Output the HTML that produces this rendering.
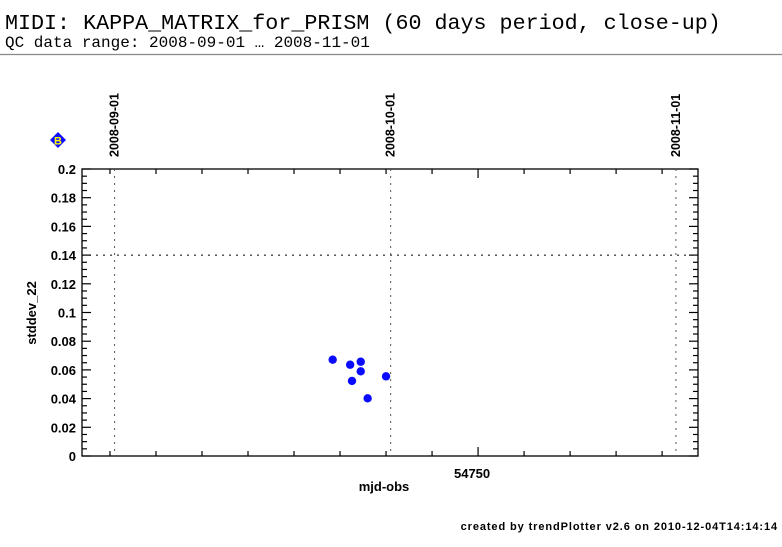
<!DOCTYPE html>
<html><head><meta charset="utf-8"><style>
body{margin:0;background:#fff;width:782px;height:542px;overflow:hidden}
svg text{font-family:"Liberation Sans",sans-serif}
</style></head><body>
<svg id="chart" width="782" height="542" xmlns="http://www.w3.org/2000/svg">
<text x="5" y="29" font-size="21.7" style="font-family:'Liberation Mono',monospace">MIDI: KAPPA_MATRIX_for_PRISM (60 days period, close-up)</text>
<text x="5" y="47" font-size="16" style="font-family:'Liberation Mono',monospace">QC data range: 2008-09-01 … 2008-11-01</text>
<line x1="0" y1="54.5" x2="782" y2="54.5" stroke="#888" stroke-width="1.2"/>
<g id="plot"></g>
<text x="384" y="491" font-size="13" font-weight="bold" text-anchor="middle">mjd-obs</text>
<text transform="translate(36,313) rotate(-90)" font-size="13" font-weight="bold" text-anchor="middle">stddev_22</text>
<text x="778" y="530" font-size="11" font-weight="bold" text-anchor="end" letter-spacing="0.9">created by trendPlotter v2.6 on 2010-12-04T14:14:14</text>
<g>
<polygon points="58,132 66,140 58,148 50,140" fill="#1010ff"/>
<text x="58" y="144.5" font-size="11" font-weight="bold" fill="#ffff00" text-anchor="middle">B</text>
</g>
</svg>
<script>
const mjdValues=[54734.2,54736.1,54736.3,54737.25,54737.25,54738.0,54740.0];
const stddevValues=[0.0671,0.0636,0.0523,0.0657,0.0590,0.0402,0.0555];
const yTicks=[0,0.02,0.04,0.06,0.08,0.1,0.12,0.14,0.16,0.18,0.2];
const yTickLabels=["0","0.02","0.04","0.06","0.08","0.1","0.12","0.14","0.16","0.18","0.2"];
const xMajorTicks=[54750];
const dateMarkers=["2008-09-01","2008-10-01","2008-11-01"];
const dateMarkerMjd=[54710.5,54740.5,54771.5];
const thresholdValue=0.14;

const L=82,R=698,T=169,B=456;
const xMin=54706.96,xMax=54773.9,yMin=0,yMax=0.2;
const X=v=>L+(v-xMin)/(xMax-xMin)*(R-L);
const Y=v=>B-(v-yMin)/(yMax-yMin)*(B-T);
const NS="http://www.w3.org/2000/svg";
const g=document.getElementById('plot');
function mk(t,a){const e=document.createElementNS(NS,t);for(const k in a)e.setAttribute(k,a[k]);g.appendChild(e);return e;}

let fr=mk('rect',{x:L,y:T,width:R-L,height:B-T,fill:'none',stroke:'#000','stroke-width':1.3});



for(let v=0;v<=0.2001;v+=0.005){
  const maj=Math.abs(v/0.02-Math.round(v/0.02))<1e-6;
  const len=maj?9:5;const y=Y(v);
  let a=mk('line',{x1:L,y1:y,x2:L+len,y2:y,stroke:'#000','stroke-width':1.2});
  
  
  let b=mk('line',{x1:R,y1:y,x2:R-len,y2:y,stroke:'#000','stroke-width':1.2});
  
  
}
yTicks.forEach((v,i)=>{
  let t=mk('text',{x:L-6,y:Y(v)+5,'font-size':13,'font-weight':'bold','text-anchor':'end'});
  t.textContent=yTickLabels[i];
  
  
});

for(let m=54710;m<=54770;m+=5){
  const maj=xMajorTicks.includes(m)||m%50===0;
  const len=maj?9:5;const x=X(m);
  let a=mk('line',{x1:x,y1:B,x2:x,y2:B-len,stroke:'#000','stroke-width':1.2});
  
  
  let b=mk('line',{x1:x,y1:T,x2:x,y2:T+len,stroke:'#000','stroke-width':1.2});
  
  
}
xMajorTicks.forEach(m=>{
  let t=mk('text',{x:X(m)-6,y:B+22,'font-size':13,'font-weight':'bold','text-anchor':'middle'});
  t.textContent=String(m);
  
  
});

let th=mk('line',{x1:L,y1:Y(thresholdValue),x2:R,y2:Y(thresholdValue),stroke:'#000','stroke-width':1,'stroke-dasharray':'2,5'});



dateMarkers.forEach((d,i)=>{
  const x=X(dateMarkerMjd[i]);
  let l=mk('line',{x1:x,y1:T,x2:x,y2:B,stroke:'#555','stroke-width':1,'stroke-dasharray':'2,5'});
  
  
  let t=mk('text',{transform:`translate(${x+4},${T-12}) rotate(-90)`,'font-size':12.5,'font-weight':'bold'});
  t.textContent=d;
  
  
});

mjdValues.forEach((m,i)=>{
  let c=mk('circle',{cx:X(m),cy:Y(stddevValues[i]),r:4.2,fill:'#0a0aff'});
  
  
});
</script>
</body></html>
